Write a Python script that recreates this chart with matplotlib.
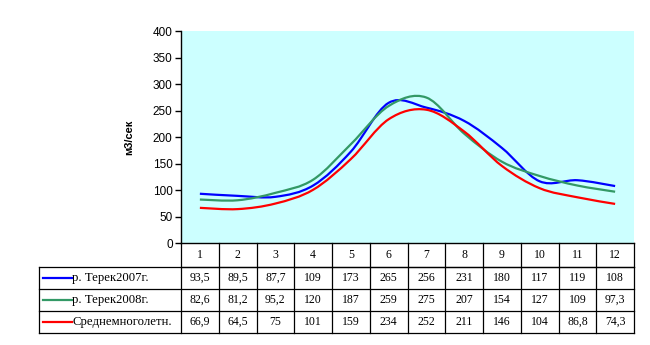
import numpy as np
import matplotlib.pyplot as plt
from matplotlib.path import Path
from matplotlib.patches import PathPatch
from matplotlib.transforms import blended_transform_factory
from matplotlib.lines import Line2D

months = list(range(1, 13))
terek_2007 = [93.5, 89.5, 87.7, 109, 173, 265, 256, 231, 180, 117, 119, 108]
terek_2008 = [82.6, 81.2, 95.2, 120, 187, 259, 275, 207, 154, 127, 109, 97.3]
mean_long = [66.9, 64.5, 75, 101, 159, 234, 252, 211, 146, 104, 86.8, 74.3]
series_names = ['р. Терек2007г.', 'р. Терек2008г.', 'Среднемноголетн.']
colors = ['#0000FF', '#339966', '#FF0000']

all_series = [terek_2007, terek_2008, mean_long]


def smooth_path(x, y):
    # Excel-like smoothed line: Catmull-Rom segments as cubic Beziers
    pts = np.column_stack((x, y)).astype(float)
    ext = np.vstack((pts[0], pts, pts[-1]))
    verts = [pts[0]]
    codes = [Path.MOVETO]
    for i in range(1, len(ext) - 2):
        p0, p1, p2, p3 = ext[i - 1], ext[i], ext[i + 1], ext[i + 2]
        c1 = p1 + (p2 - p0) / 6.0
        c2 = p2 - (p3 - p1) / 6.0
        verts += [c1, c2, p2]
        codes += [Path.CURVE4] * 3
    return Path(verts, codes)


def fmt(v):
    return f'{v:g}'.replace('.', ',')


fig = plt.figure(figsize=(6.5, 3.45), dpi=100)
W, H = 650, 345
x0, x1, ytop, ybot = 181, 634, 31.3, 243.3
ax = fig.add_axes([x0 / W, (H - ybot) / H, (x1 - x0) / W, (ybot - ytop) / H])
ax.set_facecolor('#CCFFFF')

for ys, c in zip(all_series, colors):
    ax.add_patch(PathPatch(smooth_path(months, ys), facecolor='none',
                           edgecolor=c, lw=1.6))

ax.set_xlim(0.5, 12.5)
ax.set_ylim(0, 400)
ax.set_yticks(range(0, 401, 50))
ax.set_xticks([])
for s in ['top', 'right']:
    ax.spines[s].set_visible(False)
ax.spines['left'].set_linewidth(1.0)
ax.spines['bottom'].set_linewidth(1.0)
ax.tick_params(axis='y', direction='out', length=4, width=1, pad=2,
               labelsize=8.5, labelfontfamily='Liberation Sans')
ax.set_ylabel('м3/сек', fontsize=8, fontweight='bold',
              fontfamily='Liberation Sans', labelpad=13)

# data table below the plot
ah = ybot - ytop
aw = x1 - x0
def yfrac(py):
    return -(py - ybot) / ah

row_edges = [243.3, 267, 289, 311, 333]
trans = blended_transform_factory(ax.transData, ax.transAxes)
lk = dict(color='black', lw=0.9, clip_on=False)
left_lab = (39.3 - x0) / aw

# horizontal lines
ax.add_line(Line2D([0, 1], [yfrac(row_edges[1])] * 2, transform=ax.transAxes, **lk))
for py in row_edges[1:]:
    ax.add_line(Line2D([left_lab, 1], [yfrac(py)] * 2, transform=ax.transAxes, **lk))
# vertical lines
for xe in np.arange(0.5, 13.0, 1.0):
    ax.add_line(Line2D([xe, xe], [0, yfrac(row_edges[-1])], transform=trans, **lk))
ax.add_line(Line2D([left_lab, left_lab], [yfrac(row_edges[1]), yfrac(row_edges[-1])],
                   transform=ax.transAxes, **lk))

tf = dict(fontfamily='Liberation Serif', fontsize=8.5)
for m in months:
    ax.text(m, yfrac((row_edges[0] + row_edges[1]) / 2), str(m), transform=trans,
            ha='center', va='center', **tf)
for r, (ys, name, c) in enumerate(zip(all_series, series_names, colors)):
    yc = yfrac((row_edges[r + 1] + row_edges[r + 2]) / 2)
    for m, v in zip(months, ys):
        ax.text(m, yc, fmt(v), transform=trans, ha='center', va='center', **tf)
    ax.add_line(Line2D([(42.7 - x0) / aw, (71.7 - x0) / aw], [yc, yc],
                       transform=ax.transAxes, color=c, lw=1.6, clip_on=False))
    ax.text((72.5 - x0) / aw, yc, name, transform=ax.transAxes,
            ha='left', va='center', fontfamily='Liberation Serif', fontsize=9.2)

fig.savefig('out.png', dpi=100)
